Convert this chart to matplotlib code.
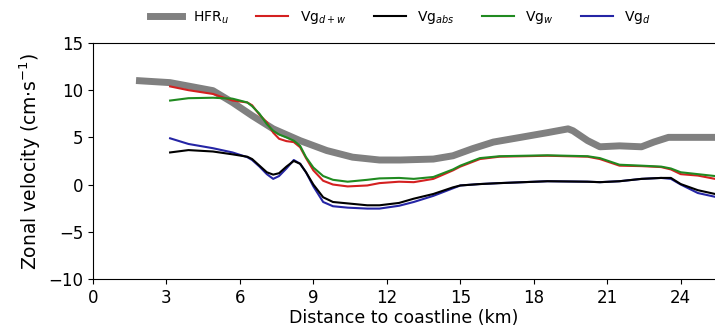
"""Zonal velocity vs distance to coastline."""

import matplotlib.pyplot as plt
import numpy as np

# HFR zonal velocity
hfr_x = [1.9, 3.15, 4.9, 5.7, 6.5, 7.36, 8.46, 9.55, 10.6, 11.7, 12.55, 13.9, 14.7,
         15.5, 16.35, 17.46, 18.56, 19.4, 19.6, 20.2, 20.7, 21.5, 22.4, 22.9, 23.5, 24.5, 25.4]
hfr_u = [11.0, 10.8, 9.95, 8.7, 7.3, 5.9, 4.65, 3.6, 2.9, 2.6, 2.6, 2.7, 3.05,
         3.8, 4.5, 5.0, 5.5, 5.9, 5.7, 4.65, 4.0, 4.1, 4.0, 4.5, 5.0, 5.0, 5.0]

# geostrophic velocity components (same grid)
vg_x = [3.15, 3.9, 4.9, 5.7, 6.3, 6.5, 6.8, 7.1, 7.36, 7.6, 7.9, 8.2, 8.46, 8.7, 9.0, 9.4, 9.8,
        10.4, 11.2, 11.7, 12.5, 13.1, 13.9, 14.7, 15.0, 15.8, 16.6, 18.56, 20.2, 20.7, 21.5,
        22.4, 23.2, 23.6, 24.0, 24.7, 25.4]
vg_dw = [10.4, 10.0, 9.6, 8.9, 8.7, 8.4, 7.4, 6.6, 5.5, 4.85, 4.6, 4.5, 3.95, 2.8, 1.5, 0.4, 0.0,
         -0.2, -0.1, 0.15, 0.3, 0.25, 0.6, 1.5, 1.9, 2.7, 2.95, 3.05, 2.95, 2.7, 2.0,
         1.95, 1.85, 1.6, 1.1, 0.95, 0.6]
vg_w = [8.9, 9.15, 9.2, 9.1, 8.7, 8.3, 7.5, 6.4, 5.7, 5.3, 5.0, 4.65, 4.1, 2.9, 1.8, 0.9, 0.5,
        0.3, 0.5, 0.65, 0.7, 0.6, 0.8, 1.6, 2.0, 2.8, 3.0, 3.1, 3.0, 2.8, 2.1,
        2.0, 1.9, 1.7, 1.3, 1.1, 0.9]
vg_abs = [3.4, 3.65, 3.5, 3.2, 2.95, 2.7, 2.0, 1.3, 1.05, 1.2, 1.9, 2.5, 2.2, 1.3, 0.0, -1.35, -1.85,
          -2.0, -2.2, -2.2, -1.95, -1.5, -1.0, -0.3, -0.1, 0.05, 0.15, 0.35, 0.3, 0.25, 0.35,
          0.6, 0.7, 0.7, 0.05, -0.6, -1.0]
vg_d = [4.9, 4.3, 3.85, 3.4, 2.9, 2.6, 1.9, 1.1, 0.6, 0.9, 1.7, 2.6, 2.2, 1.3, -0.2, -1.85, -2.3,
        -2.45, -2.55, -2.55, -2.25, -1.85, -1.2, -0.4, -0.1, 0.05, 0.15, 0.35, 0.3, 0.25, 0.35,
        0.6, 0.7, 0.6, 0.0, -0.9, -1.3]

fig = plt.figure(figsize=(7.15, 3.36), dpi=100)
ax = fig.add_axes([0.130, 0.170, 0.870, 0.702])

ax.plot(hfr_x, hfr_u, color="#808080", lw=5, label=r"HFR$_u$", zorder=2)
ax.plot(vg_x, vg_dw, color="#d42020", lw=1.5, label=r"Vg$_{d+w}$", zorder=3)
ax.plot(vg_x, vg_abs, color="black", lw=1.5, label=r"Vg$_{abs}$", zorder=4)
ax.plot(vg_x, vg_w, color="#208a20", lw=1.5, label=r"Vg$_w$", zorder=3)
ax.plot(vg_x, vg_d, color="#2525a5", lw=1.5, label=r"Vg$_d$", zorder=3)

ax.set_xlim(0, 25.4)
ax.set_ylim(-10, 15)
ax.set_xticks(np.arange(0, 25, 3))
ax.set_yticks(np.arange(-10, 16, 5))
ax.spines["right"].set_visible(False)
ax.tick_params(labelsize=12)
ax.set_xlabel("Distance to coastline (km)", fontsize=12.5, labelpad=2)
ax.set_ylabel(r"Zonal velocity (cm$\cdot$s$^{-1}$)", fontsize=13.5, labelpad=4)

fig.legend(loc="upper center", bbox_to_anchor=(0.56, 1.01), ncol=5, frameon=False,
           fontsize=10, handlelength=2.3, columnspacing=2.0)

fig.savefig("out.png", dpi=100)
plt.close(fig)
